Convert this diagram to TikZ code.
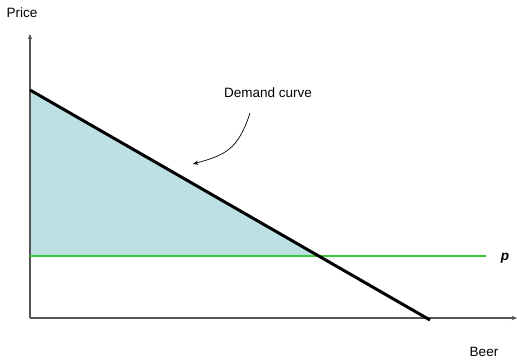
\documentclass[tikz,border=0pt]{standalone}
\usepackage{fontspec}
\setmainfont{Liberation Sans}
\usetikzlibrary{positioning,arrows.meta,calc}
\definecolor{surplusblue}{HTML}{BCE0E4}
\definecolor{pricegreen}{HTML}{3CC83C}
\definecolor{axisgray}{HTML}{555555}
\tikzset{
    every node/.style={font=\fontsize{7.7}{9}\selectfont},
    axis/.style={draw=axisgray,semithick,-{Stealth[length=3pt,width=2.5pt]}},
    demand/.style={draw=black,line width=1.7pt},
    priceline/.style={draw=pricegreen,line width=1.7pt},
    pointer/.style={draw=black,thin,-{Stealth[length=3pt,width=2.5pt]}}
}
\begin{document}
\begin{tikzpicture}[x=0.02cm,y=-0.02cm]
    \useasboundingbox (0,0) rectangle (517,364);
    % axes
    \coordinate (o) at (30,318);
    \coordinate (ytop) at (30,34);
    \coordinate (xend) at (517,318);
    % demand and price
    \coordinate (d0) at (30,90);
    \coordinate (d1) at (430,320);
    \coordinate (p0) at (30,256);
    \coordinate (p1) at (486,256);
    \coordinate (eq) at (318.7,256);
    \fill[surplusblue] (d0) -- (eq) -- (p0) -- cycle;
    \path[axis] (o) -- (ytop);
    \path[axis] (o) -- (xend);
    \path[priceline] (p0) -- (p1);
    \path[demand] (d0) -- (d1);
    % labels
    \node (price) at (22,13) {Price};
    \node (beer) at (484,352) {Beer};
    \node (plab) at (505,258) {\textbf{\textit{p}}};
    \node (dlab) at (268,93) {Demand curve};
    \coordinate (ptrstart) at (250,113);
    \coordinate (ptr) at (193,164);
    \path[pointer] (ptrstart) .. controls (238,150) and (225,155) .. (ptr);
\end{tikzpicture}
\end{document}
